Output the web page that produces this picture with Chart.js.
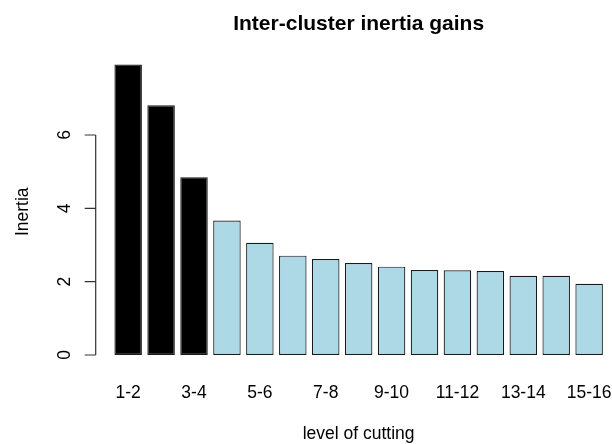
<!DOCTYPE html>
<html>
<head>
<meta charset="utf-8">
<script src="https://cdn.jsdelivr.net/npm/chart.js@4"></script>
<style>
  html, body { margin:0; padding:0; background:#fff; }
  canvas { display:block; }
</style>
</head>
<body>
<canvas id="chart" width="612" height="444"></canvas>
<script>
/* ── Data ─────────────────────────────────────────── */
const categories = ['1-2','2-3','3-4','4-5','5-6','6-7','7-8','8-9','9-10','10-11','11-12','12-13','13-14','14-15','15-16'];
const inertia    = [7.92, 6.81, 4.85, 3.67, 3.06, 2.71, 2.62, 2.51, 2.41, 2.32, 2.31, 2.29, 2.16, 2.16, 1.94];
const xTickLabels = ['1-2','3-4','5-6','7-8','9-10','11-12','13-14','15-16'];
const yTicks = [0, 2, 4, 6];
const nCut = 3;   // gains before the chosen cut (drawn black)

const titleText = 'Inter-cluster inertia gains';
const xTitle = 'level of cutting';
const yTitle = 'Inertia';

const FONT = '"Liberation Sans", Arial, Helvetica, sans-serif';

/* R-style axes, titles and rotated y labels */
const rAxes = {
  id: 'rAxes',
  afterDraw(chart) {
    const { ctx, chartArea: ca, scales: { x, y } } = chart;
    const cx = (ca.left + ca.right) / 2;
    ctx.save();
    ctx.fillStyle = '#000';
    ctx.textAlign = 'center';
    ctx.textBaseline = 'alphabetic';

    // title
    ctx.font = `bold 21px ${FONT}`;
    ctx.fillText(titleText, cx, 30);

    // x tick labels (no axis line, like barplot)
    ctx.font = `17.5px ${FONT}`;
    categories.forEach((c, i) => {
      if (xTickLabels.includes(c)) ctx.fillText(c, x.getPixelForValue(i), 398);
    });
    ctx.fillText(xTitle, cx, 439);

    // y axis
    const ax = ca.left - 16;
    ctx.strokeStyle = '#333';
    ctx.lineWidth = 1.2;
    ctx.beginPath();
    ctx.moveTo(ax, y.getPixelForValue(yTicks[0]));
    ctx.lineTo(ax, y.getPixelForValue(yTicks[yTicks.length - 1]));
    yTicks.forEach(v => {
      const py = y.getPixelForValue(v);
      ctx.moveTo(ax, py);
      ctx.lineTo(ax - 11, py);
    });
    ctx.stroke();

    yTicks.forEach(v => {
      ctx.save();
      ctx.translate(ax - 26, y.getPixelForValue(v));
      ctx.rotate(-Math.PI / 2);
      ctx.fillText(String(v), 0, 0);
      ctx.restore();
    });

    ctx.save();
    ctx.translate(28, (ca.top + ca.bottom) / 2 + 2);
    ctx.rotate(-Math.PI / 2);
    ctx.fillText(yTitle, 0, 0);
    ctx.restore();

    ctx.restore();
  }
};

const yMax = Math.max(...inertia);

new Chart(document.getElementById('chart'), {
  type: 'bar',
  data: {
    labels: categories,
    datasets: [{
      data: inertia,
      backgroundColor: inertia.map((_, i) => i < nCut ? '#000000' : '#ADD8E6'),
      borderColor: '#1a1a1a',
      borderWidth: 1.2,
      borderSkipped: false,
      barPercentage: 0.835,
      categoryPercentage: 1
    }]
  },
  options: {
    responsive: false,
    animation: false,
    devicePixelRatio: 1,
    layout: { padding: { left: 111.7, right: 6.4, top: 53, bottom: 77.4 } },
    plugins: { legend: { display: false }, tooltip: { enabled: false } },
    scales: {
      x: { display: false, offset: true },
      y: { display: false, min: -0.04 * yMax, max: yMax * 1.04 }
    }
  },
  plugins: [rAxes]
});
</script>
</body>
</html>
